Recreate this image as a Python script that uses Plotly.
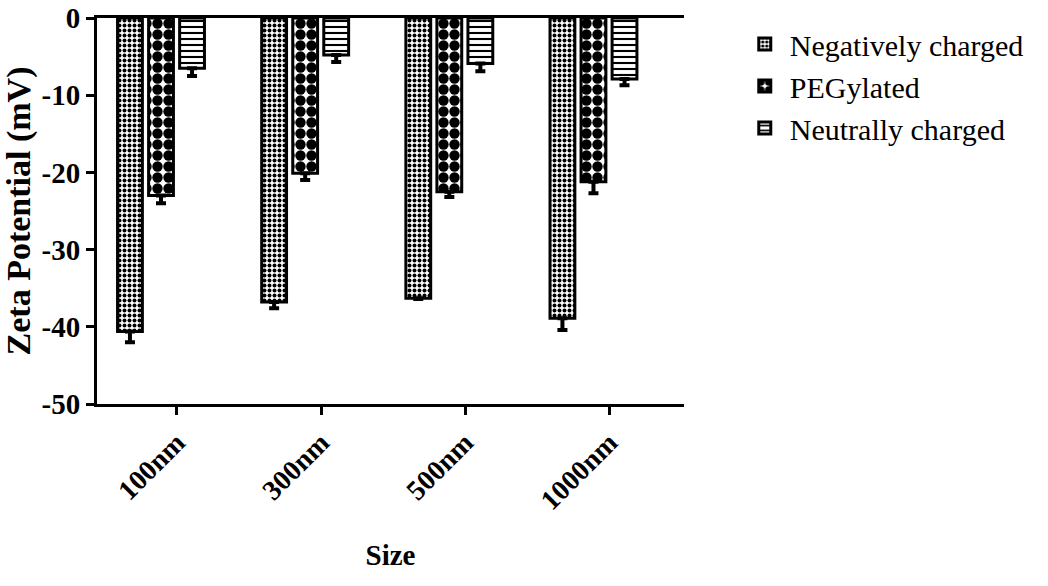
import plotly.graph_objects as go

categories = ["100nm", "300nm", "500nm", "1000nm"]
series_names = ["Negatively charged", "PEGylated", "Neutrally charged"]
negative_vals = [-40.6, -36.8, -36.3, -38.9]
negative_err = [1.4, 0.8, 0.1, 1.5]
peg_vals = [-23.0, -20.1, -22.5, -21.2]
peg_err = [1.0, 0.9, 0.7, 1.5]
neutral_vals = [-6.5, -4.8, -5.9, -7.9]
neutral_err = [1.0, 0.9, 1.0, 0.8]
y_ticks = [0, -10, -20, -30, -40, -50]

FONT = "Liberation Serif"
x_pos = list(range(len(categories)))
TICK_SHIFT = 0.11

patterns = [
    dict(shape=".", size=5, solidity=0.5, fgcolor="black", bgcolor="white", fillmode="replace"),
    dict(shape=".", size=11, solidity=0.7, fgcolor="black", bgcolor="white", fillmode="replace"),
    dict(shape="-", size=6, solidity=0.35, fgcolor="black", bgcolor="white", fillmode="replace"),
]

fig = go.Figure()
for name, vals, errs, pat in zip(series_names,
                                 [negative_vals, peg_vals, neutral_vals],
                                 [negative_err, peg_err, neutral_err],
                                 patterns):
    fig.add_trace(go.Bar(
        x=x_pos, y=vals, name=name,
        marker=dict(color="white", pattern=pat, line=dict(color="black", width=3)),
        error_y=dict(type="data", symmetric=False, array=[0] * len(errs), arrayminus=errs,
                     color="black", thickness=4, width=5),
    ))

fig.update_layout(
    width=1048, height=586,
    margin=dict(l=97, r=364, t=18, b=182),
    paper_bgcolor="white", plot_bgcolor="white",
    barmode="group", bargap=0.354, bargroupgap=0.2,
    font=dict(family=FONT, color="black"),
    showlegend=True,
    legend=dict(x=1.095, y=1.0, xanchor="left", yanchor="top",
                font=dict(family=FONT, size=30, color="black"),
                itemwidth=40, bgcolor="rgba(0,0,0,0)"),
)
fig.update_xaxes(
    range=[-0.444, 3.628], automargin=False,
    tickvals=[p + TICK_SHIFT for p in x_pos], ticktext=categories,
    tickangle=-45,
    tickfont=dict(family=FONT, size=28, color="black", weight="bold"),
    ticks="outside", ticklen=8, tickwidth=3, tickcolor="black",
    showline=True, linewidth=3, linecolor="black", mirror=True,
    showgrid=False, zeroline=False,
    title=dict(text="Size", font=dict(family=FONT, size=29, color="black", weight="bold"), standoff=30),
)
fig.update_yaxes(
    range=[-50, 0], automargin=False,
    tickvals=y_ticks, ticktext=[str(v) for v in y_ticks],
    tickfont=dict(family=FONT, size=29, color="black", weight="bold"),
    ticks="outside", ticklen=8, tickwidth=3, tickcolor="black",
    showline=True, linewidth=3, linecolor="black",
    showgrid=False, zeroline=False,
    title=dict(text="Zeta Potential (mV)", font=dict(family=FONT, size=34, color="black", weight="bold"), standoff=8),
)

fig.write_html("out.html")
